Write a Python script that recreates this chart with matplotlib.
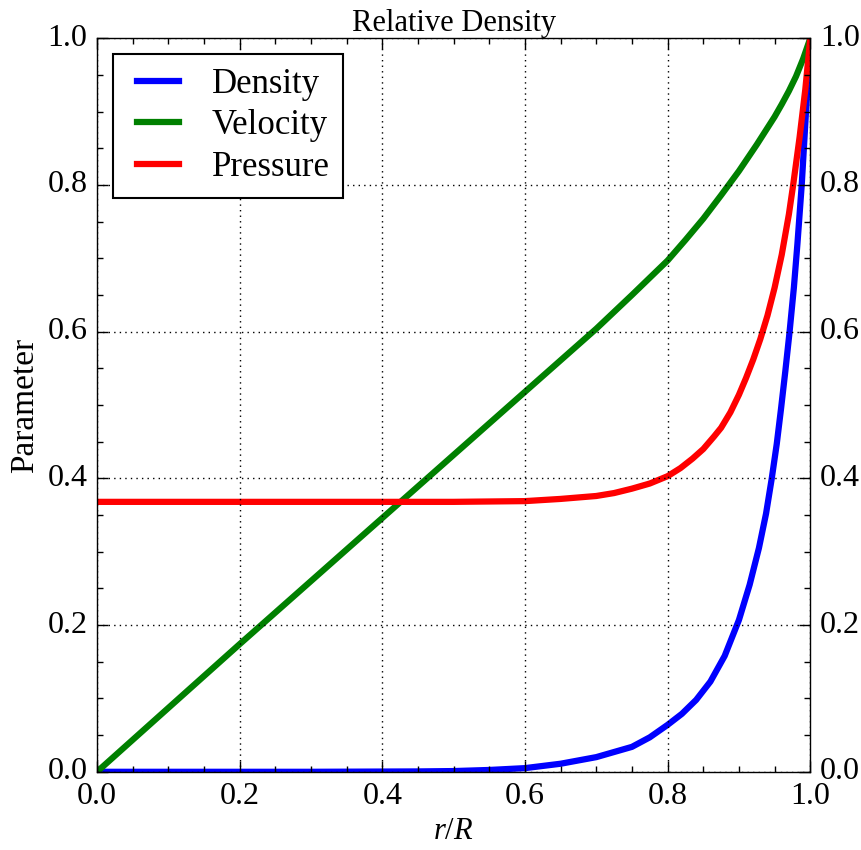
import matplotlib
matplotlib.use("Agg")
import matplotlib.pyplot as plt
from matplotlib.ticker import AutoMinorLocator

plt.style.use("classic")
plt.rcParams["font.family"] = ["Liberation Serif", "DejaVu Serif"]
plt.rcParams["mathtext.fontset"] = "custom"
plt.rcParams["mathtext.it"] = "Liberation Serif:italic"
plt.rcParams["mathtext.rm"] = "Liberation Serif"

# values (r/R on x)
density_r = [0.0, 0.3, 0.45, 0.5, 0.55, 0.6, 0.65, 0.7, 0.75, 0.775, 0.8, 0.82, 0.84, 0.86, 0.88,
             0.9, 0.915, 0.928, 0.938, 0.946, 0.953, 0.959, 0.965, 0.971, 0.977, 0.982, 0.988, 0.994, 1.0]
density = [0.0, 0.0, 0.0005, 0.001, 0.0025, 0.005, 0.011, 0.02, 0.034, 0.047, 0.064, 0.079, 0.098, 0.123, 0.158,
           0.207, 0.255, 0.305, 0.352, 0.4, 0.447, 0.495, 0.546, 0.6, 0.66, 0.72, 0.8, 0.9, 1.0]

velocity_r = [0.0, 0.1, 0.2, 0.3, 0.4, 0.5, 0.6, 0.65, 0.7, 0.75, 0.8, 0.825, 0.85, 0.875, 0.9,
              0.925, 0.95, 0.96, 0.97, 0.98, 0.99, 1.0]
velocity = [0.0, 0.087, 0.174, 0.26, 0.346, 0.432, 0.518, 0.561, 0.604, 0.65, 0.697, 0.725, 0.754, 0.786, 0.819,
            0.855, 0.893, 0.91, 0.928, 0.948, 0.972, 1.0]

pressure_r = [0.0, 0.5, 0.55, 0.6, 0.65, 0.7, 0.725, 0.75, 0.775, 0.8, 0.818, 0.835, 0.85, 0.865, 0.875, 0.888,
              0.9, 0.91, 0.92, 0.93, 0.94, 0.95, 0.96, 0.97, 0.976, 0.985, 0.993, 1.0]
pressure = [0.368, 0.368, 0.3685, 0.369, 0.372, 0.376, 0.38, 0.386, 0.393, 0.403, 0.414, 0.427, 0.44, 0.457, 0.469, 0.49,
            0.514, 0.537, 0.562, 0.59, 0.622, 0.66, 0.705, 0.76, 0.8, 0.865, 0.93, 1.0]

fig = plt.figure(figsize=(8.62, 8.5), dpi=100)
ax = fig.add_axes([0.1125, 0.092, 0.8275, 0.863])

ax.plot(density_r, density, color="b", lw=4.5, label="Density")
ax.plot(velocity_r, velocity, color="g", lw=4.5, label="Velocity")
ax.plot(pressure_r, pressure, color="r", lw=4.5, label="Pressure")

ax.set_xlim(0, 1)
ax.set_ylim(0, 1)
ax.xaxis.set_minor_locator(AutoMinorLocator(4))
ax.yaxis.set_minor_locator(AutoMinorLocator(4))
ax.tick_params(which="both", direction="in", top=True, right=True, labelright=True)
ax.tick_params(which="major", length=8, width=1, labelsize=23, pad=7)
ax.tick_params(which="minor", length=4, width=1)
ax.grid(True, which="major", color="k", linestyle=":", linewidth=1)

ax.set_title("Relative Density", fontsize=22, pad=5)
ax.set_xlabel(r"$r/R$", fontsize=22)
ax.set_ylabel("Parameter", fontsize=24)

leg = ax.legend(loc="upper left", fontsize=25, handlelength=1.8, borderaxespad=0.45,
                labelspacing=0.25, handletextpad=0.65)
leg.get_frame().set_linewidth(1.5)

fig.savefig("out.png", dpi=100)
